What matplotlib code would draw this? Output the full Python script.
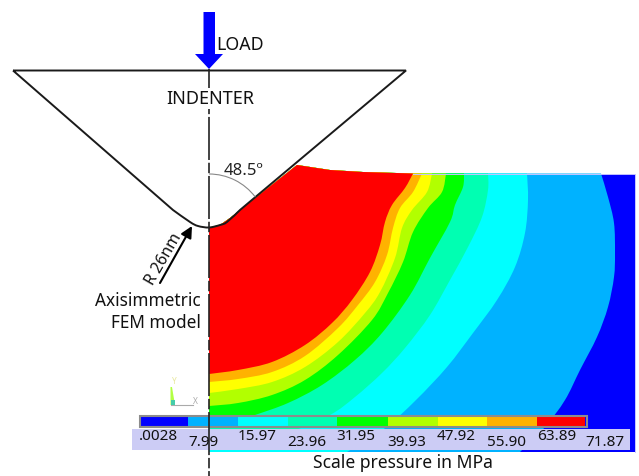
import matplotlib
matplotlib.use("Agg")
import matplotlib.pyplot as plt
from matplotlib.patches import Arc, PathPatch, Polygon, Rectangle
from matplotlib.path import Path

plt.rcParams["font.family"] = ["Noto Sans", "DejaVu Sans"]
plt.rcParams["lines.scale_dashes"] = False

# everything in pixels
scale_labels = [".0028", "7.99", "15.97", "23.96", "31.95", "39.93", "47.92", "55.90", "63.89", "71.87"]
scale_label_x = [158, 203, 257, 307, 356, 407, 456, 507, 557, 605]
scale_label_y = [436, 443, 436, 443, 436, 443, 436, 443, 436, 443]
scale_edges = [140.7, 188, 237.7, 287.7, 337.3, 387.7, 437.7, 487.3, 536.7, 585]
band_colors = ["#0000ff", "#00b2ff", "#00ffff", "#00ffb2", "#00ff00",
               "#b2ff00", "#ffff00", "#ffb200", "#ff0000"]

# free surface, from the axis along the contact up to the pile-up and out to the right
surface_x = [209, 220, 230, 297, 330, 363, 413]
surface_y = [227.5, 225, 218, 165, 170, 172, 173.5]

# contour boundaries, outermost first, from the top edge to the axis
bound_x = [
    [601, 608, 614, 615, 614, 608, 597, 580, 565, 545, 520],
    [527, 528, 525, 515, 497, 473, 447, 416, 385, 347],
    [488, 488, 482, 468, 450, 430, 405, 382, 355, 330, 290, 250, 209],
    [464, 463, 455, 450, 430, 410, 382, 355, 322, 288, 255, 230, 209],
    [446, 442, 428, 413, 403, 388, 372, 338, 305, 272, 238, 209],
    [432, 427, 412, 402, 395, 380, 365, 338, 305, 272, 238, 209],
    [422, 413, 400, 393, 387, 375, 358, 338, 305, 272, 238, 209],
    [413, 405, 392, 385, 380, 370, 352, 332, 305, 272, 238, 209],
]
bound_y = [
    [173.5, 197, 223, 253, 277, 307, 337, 370, 400, 427, 452],
    [173.5, 200, 233, 267, 300, 333, 367, 400, 428, 452],
    [173.5, 190, 217, 247, 280, 315, 348, 373, 397, 415, 432, 442, 447],
    [173.5, 187, 205, 222, 258, 295, 333, 360, 385, 403, 415, 423, 428],
    [173.5, 192, 208, 232, 262, 293, 320, 355, 380, 395, 403, 406],
    [173.5, 192, 210, 228, 258, 292, 313, 342, 367, 382, 389, 393],
    [173.5, 192, 208, 228, 255, 282, 305, 328, 356, 372, 379, 382],
    [173.5, 188, 205, 222, 245, 272, 300, 323, 345, 362, 370, 374],
]

indenter_tip_x = [173, 190, 198, 209, 220, 227, 240]
indenter_tip_y = [210, 222, 226, 227.5, 225, 222, 210]


def spline(xs, ys):
    # catmull-rom through the read points, as bezier segments
    pts = list(zip(xs, ys))
    verts = [pts[0]]
    for i in range(len(pts) - 1):
        p0 = pts[max(i - 1, 0)]
        p1 = pts[i]
        p2 = pts[i + 1]
        p3 = pts[min(i + 2, len(pts) - 1)]
        verts.append((p1[0] + (p2[0] - p0[0]) / 6, p1[1] + (p2[1] - p0[1]) / 6))
        verts.append((p2[0] - (p3[0] - p1[0]) / 6, p2[1] - (p3[1] - p1[1]) / 6))
        verts.append(p2)
    codes = [Path.MOVETO] + [Path.CURVE4] * (len(verts) - 1)
    return verts, codes


def contour_path(xs, ys):
    verts, codes = spline(xs, ys)
    if ys[-1] == 452:
        verts.append((209, 452))
        codes.append(Path.LINETO)
    for p in zip(surface_x, surface_y):
        verts.append(p)
        codes.append(Path.LINETO)
    verts.append(verts[0])
    codes.append(Path.CLOSEPOLY)
    return Path(verts, codes)


fig = plt.figure(figsize=(6.39, 4.76), dpi=100)
ax = fig.add_axes([0, 0, 1, 1])
ax.set_xlim(0, 639)
ax.set_ylim(476, 0)
ax.axis("off")

# FEM contours
ax.add_patch(Rectangle((209, 173.5), 425.5, 278.5, fc=band_colors[0], ec="none", zorder=1))
for i in range(len(bound_x)):
    ax.add_patch(PathPatch(contour_path(bound_x[i], bound_y[i]), fc=band_colors[i + 1], ec="none", zorder=2 + i))
ax.plot([413, 634.5, 634.5], [173.5, 173.5, 452], color="#c4c4ff", lw=0.7, zorder=11)

# white cover for the part of the rectangle above the contact
ax.add_patch(Polygon([(209, 173), (413, 173)] + list(zip(surface_x, surface_y))[::-1], closed=True, fc="white", ec="none", zorder=1.5))

# indenter
tip_verts, tip_codes = spline(indenter_tip_x, indenter_tip_y)
ind_verts = [(13, 70.5), (406, 70.5)] + tip_verts[::-1] + [(13, 70.5)]
ind_codes = [Path.MOVETO, Path.LINETO, Path.LINETO] + tip_codes[1:] + [Path.LINETO]
ax.add_patch(PathPatch(Path(ind_verts, ind_codes), fc="none", ec="#1a1a1a", lw=1.4, zorder=12))

# symmetry axis
ax.plot([209, 209], [69, 476], color="#222222", lw=1.2, ls=(8, (31, 2, 7.5, 2)), zorder=20)

# load arrow
ax.add_patch(Polygon([(203.5, 12), (215, 12), (215, 54), (223, 54), (209, 69), (195, 54), (203.5, 54)],
                     closed=True, fc="#0000ff", ec="none", zorder=21))
ax.text(216.5, 44.5, "LOAD", fontsize=12.8, color="#111111", va="center", ha="left", zorder=22)
ax.text(210, 98.5, "INDENTER", fontsize=13, color="#111111", va="center", ha="center", zorder=22,
        bbox=dict(fc="white", ec="none", pad=1))

# angle
ax.add_patch(Arc((209, 232), 116, 116, theta1=270, theta2=323, color="#888888", lw=0.8, zorder=13))
ax.text(243, 171, "48.5º", fontsize=12, color="#222222", va="center", ha="center", zorder=22)

# radius
ax.annotate("", xy=(192, 226), xytext=(160, 283), zorder=22,
            arrowprops=dict(arrowstyle="-|>", color="black", lw=1.5, mutation_scale=17, shrinkA=0, shrinkB=0))
ax.text(164, 259, "R 26nm", fontsize=11.5, color="#111111", rotation=60, va="center", ha="center",
        rotation_mode="anchor", zorder=22)

ax.text(201, 301, "Axisimmetric", fontsize=12.4, color="#111111", va="center", ha="right", zorder=22)
ax.text(201, 323, "FEM model", fontsize=12.4, color="#111111", va="center", ha="right", zorder=22)

# coordinate triad
ax.add_patch(Polygon([(170.5, 387), (172, 387), (175, 405), (170.5, 405)], closed=True, fc="#b2ff44", ec="none", zorder=13))
ax.add_patch(Rectangle((170.5, 400), 4, 5, fc="#44ccaa", ec="none", zorder=14))
ax.plot([171, 193], [405, 405], color="#aaaaaa", lw=0.8, zorder=13)
ax.text(195, 401, "X", fontsize=6, color="#aaaaaa", va="center", ha="center", zorder=13)
ax.text(174, 382, "Y", fontsize=6, color="#e8e8a0", va="center", ha="center", zorder=13)

# scale bar
ax.add_patch(Rectangle((132, 429), 498, 21, fc="#ccccf5", ec="none", zorder=15))
ax.add_patch(Rectangle((139.5, 415.5), 447, 11.5, fc="none", ec="#8c8c8c", lw=1.5, zorder=17))
for i in range(len(band_colors)):
    ax.add_patch(Rectangle((scale_edges[i], 416.5), scale_edges[i + 1] - scale_edges[i], 9.5,
                           fc=band_colors[i], ec="none", zorder=16))
for label, x, y in zip(scale_labels, scale_label_x, scale_label_y):
    ax.text(x, y, label, fontsize=11, color="#111111", va="center", ha="center", zorder=22)
ax.text(403, 463, "Scale pressure in MPa", fontsize=12.6, color="#111111", va="center", ha="center", zorder=22)

fig.savefig("out.png", dpi=100)
